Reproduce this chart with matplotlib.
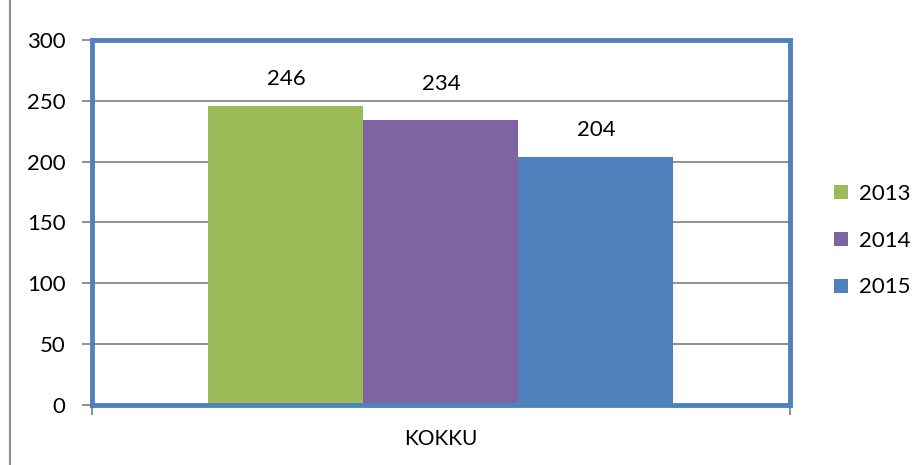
import matplotlib.pyplot as plt
from matplotlib.lines import Line2D

# Data
category = "KOKKU"
years = ["2013", "2014", "2015"]
values = [246, 234, 204]
colors = ["#9BBB59", "#8064A2", "#4F81BD"]
yticks = [0, 50, 100, 150, 200, 250, 300]

plt.rcParams['font.family'] = ['Lato', 'DejaVu Sans']

fig = plt.figure(figsize=(9.2, 4.65), dpi=100)
ax = fig.add_axes([92 / 920, 1 - 405 / 465, 698 / 920, 365 / 465])

bar_w = 155 / 698
offsets = [-bar_w, 0, bar_w]
label_pad = [14, 22, 14]  # Excel nudged the middle label up
for off, val, col, yr, pad in zip(offsets, values, colors, years, label_pad):
    ax.bar(off, val, width=bar_w, color=col, label=yr, zorder=2)
    ax.text(off, val + pad, str(val), ha='center', va='bottom', fontsize=16, color='black')

ax.set_xlim(-0.5, 0.5)
ax.set_ylim(0, 300)
ax.set_yticks(yticks)
ax.set_yticklabels([str(t) for t in yticks], fontsize=16)
ax.yaxis.grid(True, color='#878787', linewidth=1.3, zorder=0)
ax.set_axisbelow(True)

ax.set_xticks([-0.5, 0.5])
ax.set_xticklabels(["", ""])
ax.tick_params(axis='both', colors='#878787', length=7, width=1.3, labelcolor='black')
ax.tick_params(axis='y', pad=12)
ax.text(0, -0.065, category, transform=ax.get_xaxis_transform(), ha='center', va='top', fontsize=15)

for sp in ax.spines.values():
    sp.set_color('#4F81BD')
    sp.set_linewidth(3.5)

ax.legend(loc='center left', bbox_to_anchor=(1.035, 0.45), frameon=False, fontsize=16,
          handlelength=0.6, handleheight=0.6, handletextpad=0.5, labelspacing=1.2)

# outer chart border (left edge visible)
fig.add_artist(Line2D([10 / 920, 10 / 920], [0, 1], color='#8c8c8c', linewidth=1.5))

fig.savefig("out.png", dpi=100)
